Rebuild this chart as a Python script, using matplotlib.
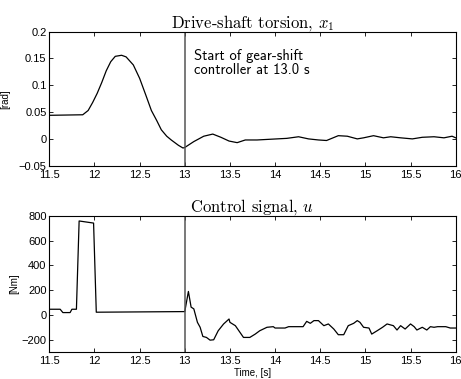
"""
Gear-shift controller: drive-shaft torsion and control signal.
"""

import matplotlib
matplotlib.use("Agg")
import matplotlib.pyplot as plt

# Drive-shaft torsion x1 [rad]
t_x1 = [11.5, 11.87, 11.93, 11.98, 12.03, 12.08, 12.13, 12.18, 12.23, 12.30,
        12.35, 12.43, 12.50, 12.57, 12.63, 12.69, 12.74, 12.80, 12.85, 12.93,
        12.98, 13.0, 13.10, 13.21, 13.31, 13.40, 13.49, 13.58, 13.67, 13.80,
        13.91, 14.02, 14.13, 14.26, 14.37, 14.48, 14.57, 14.70, 14.80, 14.91,
        14.98, 15.09, 15.20, 15.28, 15.39, 15.52, 15.63, 15.76, 15.87, 15.96,
        16.0]
x1 = [0.044, 0.045, 0.053, 0.068, 0.085, 0.105, 0.127, 0.144, 0.154, 0.156,
      0.153, 0.138, 0.113, 0.081, 0.053, 0.034, 0.017, 0.005, -0.002, -0.012,
      -0.017, -0.016, -0.005, 0.005, 0.009, 0.003, -0.004, -0.007, -0.002, -0.002,
      -0.001, 0.0, 0.001, 0.004, 0.0, -0.002, -0.003, 0.006, 0.005, 0.0,
      0.002, 0.006, 0.002, 0.004, 0.002, 0.0, 0.003, 0.004, 0.002, 0.005,
      0.002]

# Control signal u [Nm]
t_u = [11.5, 11.62, 11.65, 11.73, 11.75, 11.80, 11.83, 11.99, 12.02, 13.0,
       13.04, 13.07, 13.10, 13.14, 13.17, 13.20, 13.24, 13.28, 13.32, 13.37,
       13.43, 13.49, 13.5, 13.56, 13.65, 13.72, 13.78, 13.83, 13.91, 13.98,
       14.0, 14.11, 14.15, 14.31, 14.35, 14.39, 14.43, 14.48, 14.54, 14.59,
       14.65, 14.70, 14.76, 14.81, 14.87, 14.91, 14.94, 14.98, 15.04, 15.07,
       15.13, 15.19, 15.24, 15.31, 15.35, 15.39, 15.44, 15.50, 15.54, 15.57,
       15.63, 15.68, 15.72, 15.76, 15.80, 15.89, 15.94, 16.0]
u = [46, 46, 19, 19, 46, 46, 760, 743, 22, 27,
     190, 63, 49, -60, -100, -174, -182, -204, -201, -128,
     -73, -33, -60, -87, -182, -182, -155, -128, -100, -95,
     -106, -106, -95, -95, -52, -68, -46, -46, -87, -73,
     -114, -160, -160, -87, -68, -46, -60, -100, -106, -155,
     -128, -100, -73, -87, -122, -87, -114, -73, -95, -122,
     -100, -122, -95, -100, -95, -95, -106, -106]

t_start = 13.0
xticks = [11.5, 12, 12.5, 13, 13.5, 14, 14.5, 15, 15.5, 16]
xticklabels = ["11.5", "12", "12.5", "13", "13.5", "14", "14.5", "15", "15.5", "16"]

plt.rcParams["font.family"] = ["Liberation Sans", "DejaVu Sans"]
plt.rcParams["mathtext.fontset"] = "cm"
plt.rcParams["axes.unicode_minus"] = False

fig = plt.figure(figsize=(4.61, 3.79), dpi=100)
ax1 = fig.add_axes([0.107, 0.5628, 0.8815, 0.3536])
ax2 = fig.add_axes([0.107, 0.0712, 0.8815, 0.3588])


def style(ax):
    ax.set_xlim(11.5, 16)
    ax.set_xticks(xticks)
    ax.set_xticklabels(xticklabels)
    ax.tick_params(direction="in", top=True, right=True, labelsize=8,
                   length=3, width=0.6, pad=2)
    ax.tick_params(axis="x", pad=3)
    for s in ax.spines.values():
        s.set_linewidth(0.8)


ax1.plot(t_x1, x1, color="black", lw=0.9)
ax1.axvline(t_start, color="#555555", lw=1.1)
ax1.set_ylim(-0.05, 0.2)
ax1.set_yticks([-0.05, 0, 0.05, 0.1, 0.15, 0.2])
ax1.set_yticklabels(["\u22120.05", "0", "0.05", "0.1", "0.15", "0.2"])
style(ax1)
ax1.set_ylabel("[rad]", fontsize=7, labelpad=6)
ax1.set_title("Drive-shaft torsion, $x_1$", family="cmr10", fontsize=12, pad=3)
ax1.text(13.1, 0.168, "Start of gear-shift\ncontroller at 13.0 s",
         family="cmss10", fontsize=10.5, va="top", ha="left", linespacing=1.0)

ax2.plot(t_u, u, color="black", lw=0.9)
ax2.axvline(t_start, color="#555555", lw=1.1)
ax2.set_ylim(-300, 800)
ax2.set_yticks([-200, 0, 200, 400, 600, 800])
ax2.set_yticklabels(["\u2212200", "0", "200", "400", "600", "800"])
style(ax2)
ax2.set_ylabel("[Nm]", fontsize=7, labelpad=2)
ax2.set_xlabel("Time, [s]", fontsize=7, labelpad=1)
ax2.set_title("Control signal, $u$", family="cmr10", fontsize=12, pad=3)

fig.savefig("out.png", dpi=100)
